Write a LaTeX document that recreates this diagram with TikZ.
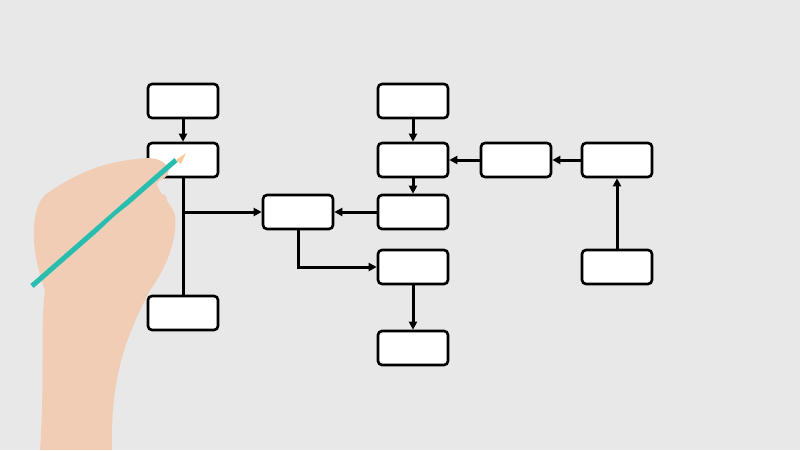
\documentclass[tikz,border=0pt]{standalone}
\usetikzlibrary{arrows.meta}
\definecolor{skin}{RGB}{240,205,180}
\definecolor{pencil}{RGB}{40,190,175}
\begin{document}
\begin{tikzpicture}[x=1pt,y=-1pt,
  box/.style={draw=black,line width=2.6pt,fill=white,rounded corners=4pt,minimum width=70pt,minimum height=34pt,inner sep=0pt},
  conn/.style={line width=3pt,-{Triangle[length=8pt,width=8pt]}},
  plain/.style={line width=3pt}]
\fill[gray!18] (0,0) rectangle (800,450);
\useasboundingbox (0,0) rectangle (800,450);
\node[box] (A) at (183,101) {};
\node[box] (B) at (183,160) {};
\node[box] (C) at (183,313) {};
\node[box] (D) at (298,212) {};
\node[box] (E) at (413,101) {};
\node[box] (F) at (413,160) {};
\node[box] (G) at (413,212) {};
\node[box] (H) at (413,267) {};
\node[box] (I) at (413,348) {};
\node[box] (J) at (516,160) {};
\node[box] (K) at (617,160) {};
\node[box] (L) at (617,267) {};
\coordinate (bj) at (183,212);
\draw[conn] (A) -- (B);
\draw[plain] (B) -- (C);
\draw[conn] (bj) -- (D);
\draw[conn] (D.south) |- (H.west);
\draw[conn] (G) -- (D);
\draw[conn] (E) -- (F);
\draw[conn] (F) -- (G);
\draw[conn] (H) -- (I);
\draw[conn] (J) -- (F);
\draw[conn] (K) -- (J);
\draw[conn] (L) -- (K);
% hand
\fill[skin] (40,450) .. controls (45,380) and (40,330) .. (45,290)
  .. controls (30,250) and (30,210) .. (45,195)
  .. controls (80,170) and (110,160) .. (150,158)
  .. controls (170,160) and (175,175) .. (160,180)
  .. controls (150,185) and (170,200) .. (175,215)
  .. controls (178,240) and (165,270) .. (150,290)
  .. controls (130,330) and (110,370) .. (112,450) -- cycle;
\draw[line width=5pt,pencil] (32,286) -- (176,160);
\fill[orange!40!white] (176,160) -- (186,153) -- (181,164) -- cycle;
\fill[skin] (100,230) .. controls (130,200) and (150,190) .. (165,195)
  .. controls (172,205) and (160,215) .. (140,225) -- cycle;
\end{tikzpicture}
\end{document}
